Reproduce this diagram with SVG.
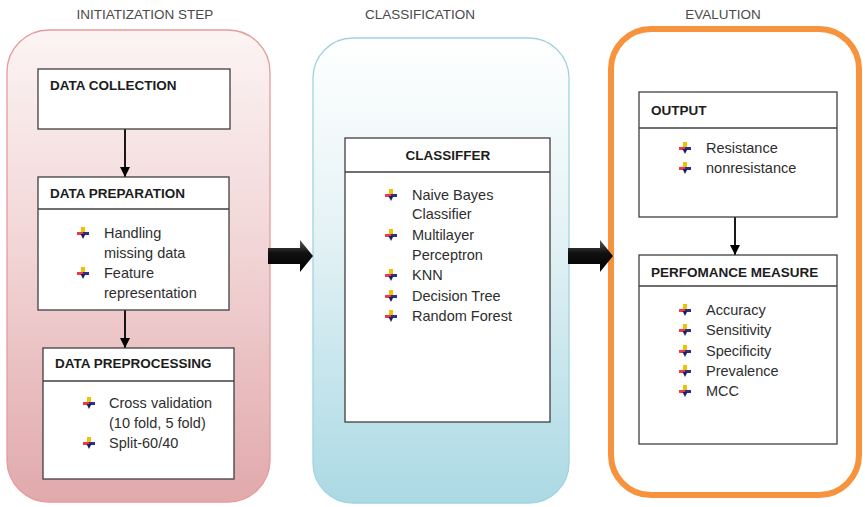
<svg xmlns="http://www.w3.org/2000/svg" width="865" height="507" viewBox="0 0 865 507">
  <defs>
    <linearGradient id="pinkFill" x1="0" y1="0" x2="0" y2="1">
      <stop offset="0" stop-color="#fcf4f4"/>
      <stop offset="0.45" stop-color="#f2d6d7"/>
      <stop offset="1" stop-color="#e1a9ac"/>
    </linearGradient>
    <linearGradient id="blueFill" x1="0" y1="0" x2="0" y2="1">
      <stop offset="0" stop-color="#ffffff"/>
      <stop offset="0.4" stop-color="#e6f3f6"/>
      <stop offset="1" stop-color="#abd9e4"/>
    </linearGradient>
    <linearGradient id="arrowFill" x1="0" y1="0" x2="0" y2="1">
      <stop offset="0" stop-color="#5a5a5a"/>
      <stop offset="0.4" stop-color="#111111"/>
      <stop offset="1" stop-color="#000000"/>
    </linearGradient>
    <marker id="head" viewBox="0 0 10 10" refX="10" refY="5" markerWidth="10" markerHeight="10" markerUnits="userSpaceOnUse" orient="auto">
      <path d="M0,0 L10,5 L0,10 Z" fill="#000"/>
    </marker>
    <!-- four-colour arrow bullet -->
    <symbol id="bullet" viewBox="0 0 12 12" width="12" height="12">
      <rect x="4" y="0" width="4" height="6" fill="#f2c200"/>
      <rect x="0" y="5" width="6" height="3" fill="#ee3a44"/>
      <rect x="6" y="5" width="6" height="3" fill="#2b2f8e"/>
      <path d="M3.5,7 H8.5 L6,12 Z" fill="#1d2060"/>
    </symbol>
    <style>
      .title { font-family: "Liberation Sans", Arial, sans-serif; font-size: 13.5px; fill: #4a4a4a; }
      .head { font-family: "Liberation Sans", Arial, sans-serif; font-size: 13.5px; font-weight: bold; fill: #1c1c1c; }
      .item { font-family: "Liberation Sans", Arial, sans-serif; font-size: 14.5px; fill: #2e2e2e; }
      .box { fill: #ffffff; stroke: #3f3f3f; stroke-width: 1.3; }
      .div { stroke: #3f3f3f; stroke-width: 1.3; }
      .link { stroke: #000; stroke-width: 1.8; fill: none; marker-end: url(#head); }
    </style>
  </defs>

  <!-- stage titles -->
  <text class="title" x="145" y="19" text-anchor="middle">INITIATIZATION STEP</text>
  <text class="title" x="420" y="19" text-anchor="middle">CLASSIFICATION</text>
  <text class="title" x="723" y="19" text-anchor="middle">EVALUTION</text>

  <!-- stage panels -->
  <g id="panel-init">
    <rect x="7" y="30" width="263" height="472" rx="42" fill="url(#pinkFill)" stroke="#e79a9c" stroke-width="1.3"/>
  </g>
  <g id="panel-classification">
    <rect x="313" y="38" width="256" height="465" rx="40" fill="url(#blueFill)" stroke="#9fd4df" stroke-width="1.3"/>
  </g>
  <g id="panel-evaluation">
    <rect x="611" y="29" width="248" height="466" rx="40" fill="#ffffff" stroke="#f7933c" stroke-width="6"/>
  </g>

  <!-- connectors -->
  <g id="connectors">
    <line class="link" x1="125" y1="129" x2="125" y2="177"/>
    <line class="link" x1="125" y1="310" x2="125" y2="348"/>
    <line class="link" x1="735" y1="217" x2="735" y2="255"/>
    <path d="M268,248 H300 V240 L313,256 L300,272 V264 H268 Z" fill="url(#arrowFill)"/>
    <path d="M568,248 H600 V240 L613,256 L600,272 V264 H568 Z" fill="url(#arrowFill)"/>
  </g>

  <g id="data-collection">
    <rect class="box" x="38" y="69" width="192" height="60"/>
    <text class="head" x="50" y="90">DATA COLLECTION</text>
  </g>

  <g id="data-preparation">
    <rect class="box" x="38" y="177" width="191" height="133"/>
    <line class="div" x1="38" y1="209" x2="229" y2="209"/>
    <text class="head" x="50" y="198">DATA PREPARATION</text>
    <use href="#bullet" x="77" y="227"/>
    <text class="item" x="104" y="238">Handling</text>
    <text class="item" x="104" y="258">missing data</text>
    <use href="#bullet" x="77" y="267"/>
    <text class="item" x="104" y="278">Feature</text>
    <text class="item" x="104" y="298">representation</text>
  </g>

  <g id="data-preprocessing">
    <rect class="box" x="43" y="348" width="191" height="131"/>
    <line class="div" x1="43" y1="381" x2="234" y2="381"/>
    <text class="head" x="55" y="368">DATA PREPROCESSING</text>
    <use href="#bullet" x="83" y="397"/>
    <text class="item" x="109" y="408">Cross validation</text>
    <text class="item" x="109" y="428">(10 fold, 5 fold)</text>
    <use href="#bullet" x="83" y="437"/>
    <text class="item" x="109" y="448">Split-60/40</text>
  </g>

  <g id="classifier">
    <rect class="box" x="345" y="138" width="205" height="284"/>
    <line class="div" x1="345" y1="172" x2="550" y2="172"/>
    <text class="head" x="448" y="160" text-anchor="middle">CLASSIFFER</text>
    <use href="#bullet" x="385" y="189"/>
    <text class="item" x="412" y="200">Naive  Bayes</text>
    <text class="item" x="412" y="219">Classifier</text>
    <use href="#bullet" x="385" y="229"/>
    <text class="item" x="412" y="240">Multilayer</text>
    <text class="item" x="412" y="260">Perceptron</text>
    <use href="#bullet" x="385" y="269"/>
    <text class="item" x="412" y="280">KNN</text>
    <use href="#bullet" x="385" y="290"/>
    <text class="item" x="412" y="301">Decision Tree</text>
    <use href="#bullet" x="385" y="310"/>
    <text class="item" x="412" y="321">Random Forest</text>
  </g>

  <g id="output">
    <rect class="box" x="639" y="92" width="198" height="125"/>
    <line class="div" x1="639" y1="128" x2="837" y2="128"/>
    <text class="head" x="651" y="115">OUTPUT</text>
    <use href="#bullet" x="679" y="142"/>
    <text class="item" x="706" y="153">Resistance</text>
    <use href="#bullet" x="679" y="162"/>
    <text class="item" x="706" y="173">nonresistance</text>
  </g>

  <g id="performance-measure">
    <rect class="box" x="639" y="255" width="198" height="189"/>
    <line class="div" x1="639" y1="286" x2="837" y2="286"/>
    <text class="head" x="651" y="277">PERFOMANCE MEASURE</text>
    <use href="#bullet" x="679" y="304"/>
    <text class="item" x="706" y="315">Accuracy</text>
    <use href="#bullet" x="679" y="324"/>
    <text class="item" x="706" y="335">Sensitivity</text>
    <use href="#bullet" x="679" y="345"/>
    <text class="item" x="706" y="356">Specificity</text>
    <use href="#bullet" x="679" y="365"/>
    <text class="item" x="706" y="376">Prevalence</text>
    <use href="#bullet" x="679" y="385"/>
    <text class="item" x="706" y="396">MCC</text>
  </g>
</svg>
